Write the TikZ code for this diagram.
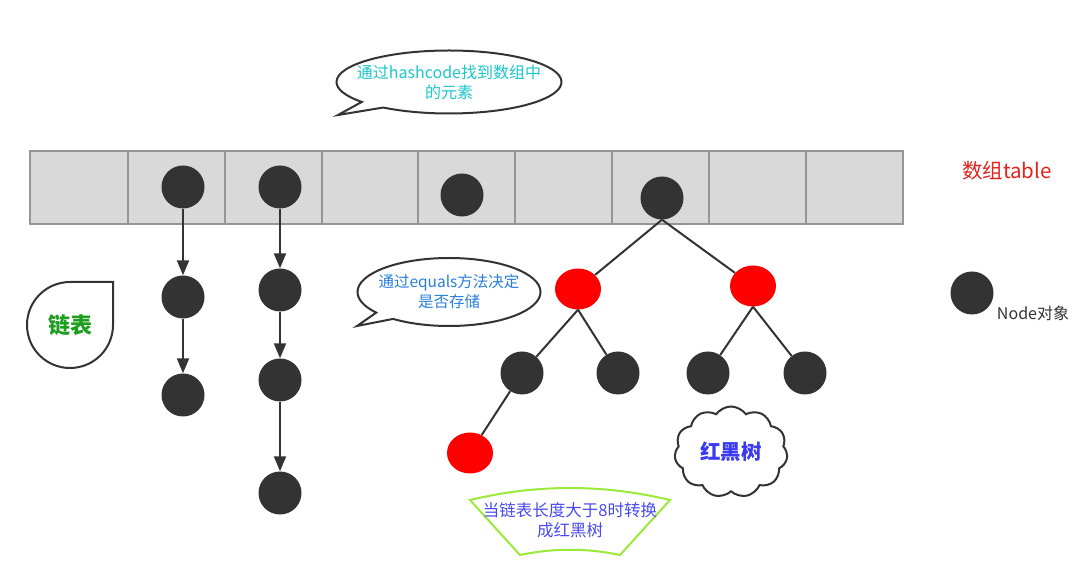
\documentclass[tikz,border=0pt]{standalone}
\usepackage{fontspec}
\setmainfont{Noto Sans CJK SC}
\usepackage{xcolor}
\usetikzlibrary{arrows.meta,shapes.geometric,shapes.callouts,shapes.symbols}

\definecolor{objgray}{HTML}{333333}
\definecolor{cellgray}{HTML}{D9D9D9}
\definecolor{cellline}{HTML}{959595}
\definecolor{hashcyan}{HTML}{1CC6CC}
\definecolor{eqblue}{HTML}{2A7FD8}
\definecolor{listgreen}{HTML}{1E9E1E}
\definecolor{treeblue}{HTML}{3A3AF0}
\definecolor{fanblue}{HTML}{4A4AF2}
\definecolor{fangreen}{HTML}{9BEA3A}
\definecolor{tabred}{HTML}{E0241C}

\begin{document}
\begin{tikzpicture}[x=1pt, y=1pt,
  >={Triangle[length=15pt,width=12pt]},
  obj/.style   ={circle, fill=objgray, minimum size=43pt, inner sep=0pt},
  redobj/.style={ellipse, fill=red, minimum width=46pt, minimum height=41pt, inner sep=0pt},
  arr/.style   ={->, draw=objgray, line width=2pt},
  link/.style  ={draw=objgray, line width=2pt},
  bubble/.style={ellipse callout, draw=objgray, line width=2pt, fill=white, inner sep=0pt},
  lbl/.style   ={inner sep=0pt, align=center}
]
    % white page, fixed size
    \fill[white] (0,0) rectangle (1081,570);
    \useasboundingbox (0,0) rectangle (1081,570);

    % the array
    \node[draw=cellline, line width=2.5pt, fill=cellgray, inner sep=0pt,
          minimum width=873pt, minimum height=73pt] (table) at (466.5,382.5) {};
    \foreach \x in {128,225,322,418,515,612,709,806}
      \draw[cellline, line width=1.5pt] (\x,346) -- (\x,419);
    \node[lbl, text=tabred, font=\fontsize{20.5}{24}\selectfont] (tabname) at (1007,399) {数组table};

    % objects in the array
    \node[obj] (a1)   at (183,383) {};
    \node[obj] (a2)   at (280,383) {};
    \node[obj] (a3)   at (462,375) {};
    \node[obj] (root) at (662,372) {};

    % first linked list
    \node[obj] (l11) at (183,273) {};
    \node[obj] (l12) at (183,175) {};
    \draw[arr] (a1)  -- (l11);
    \draw[arr] (l11) -- (l12);

    % second linked list
    \node[obj] (l21) at (280,280) {};
    \node[obj] (l22) at (280,190) {};
    \node[obj] (l23) at (280,77)  {};
    \draw[arr] (a2)  -- (l21);
    \draw[arr] (l21) -- (l22);
    \draw[arr] (l22) -- (l23);

    % red-black tree
    \node[redobj] (r1) at (578,281) {};
    \node[redobj] (r2) at (753,284) {};
    \node[obj]    (b1) at (522,197) {};
    \node[obj]    (b2) at (618,197) {};
    \node[obj]    (b3) at (708,197) {};
    \node[obj]    (b4) at (805,197) {};
    \node[redobj] (r3) at (470,117) {};
    \draw[link] (root.south) -- (r1);
    \draw[link] (root.south) -- (r2);
    \draw[link] (r1.south) -- (b1);
    \draw[link] (r1.south) -- (b2);
    \draw[link] (r2.south) -- (b3);
    \draw[link] (r2.south) -- (b4);
    \draw[link] (b1) -- (r3);

    % legend
    \node[obj] (legend) at (972,277) {};
    \node[lbl, text=objgray, font=\fontsize{16}{18}\selectfont] (legendtxt) at (1033,257) {Node对象};

    % speech bubbles
    \coordinate (tip1) at (338,455);
    \node[bubble, minimum width=225pt, minimum height=63pt,
          callout absolute pointer={(tip1)}] (hashbub) at (449,488) {};
    \node[lbl, text=hashcyan, font=\fontsize{16}{20}\selectfont] (hashtxt) at (hashbub)
          {通过hashcode找到数组中\\的元素};
    \coordinate (tip2) at (357,244);
    \node[bubble, minimum width=183pt, minimum height=68pt,
          callout absolute pointer={(tip2)}] (eqbub) at (449,278) {};
    \node[lbl, text=eqblue, font=\fontsize{15.5}{20}\selectfont] (eqtxt) at (eqbub)
          {通过equals方法决定\\是否存储};

    % list label (drop shape)
    \draw[objgray, line width=2pt] (70,288) -- (113,288) -- (113,245)
      arc[start angle=0, end angle=-270, radius=43];
    \node[lbl, text=listgreen, font=\fontsize{22}{24}\selectfont\bfseries] (listtxt) at (70,245) {链表};

    % tree label (cloud)
    \node[cloud, cloud puffs=11, cloud puff arc=110, draw=objgray, line width=2pt,
          minimum width=113pt, minimum height=91pt, inner sep=0pt] (treecloud) at (731,118) {};
    \node[lbl, text=treeblue, font=\fontsize{20.5}{22}\selectfont\bfseries] (treetxt) at (treecloud) {红黑树};

    % conversion label (fan)
    \draw[fangreen, line width=2pt] (470,70) .. controls (537,86) and (603,86) .. (670,70)
      -- (620,15) .. controls (587,22) and (553,22) .. (520,15) -- cycle;
    \node[lbl, text=fanblue, font=\fontsize{16.5}{20}\selectfont] (fantxt) at (570,50)
      {当链表长度大于8时转换\\成红黑树};
\end{tikzpicture}
\end{document}
